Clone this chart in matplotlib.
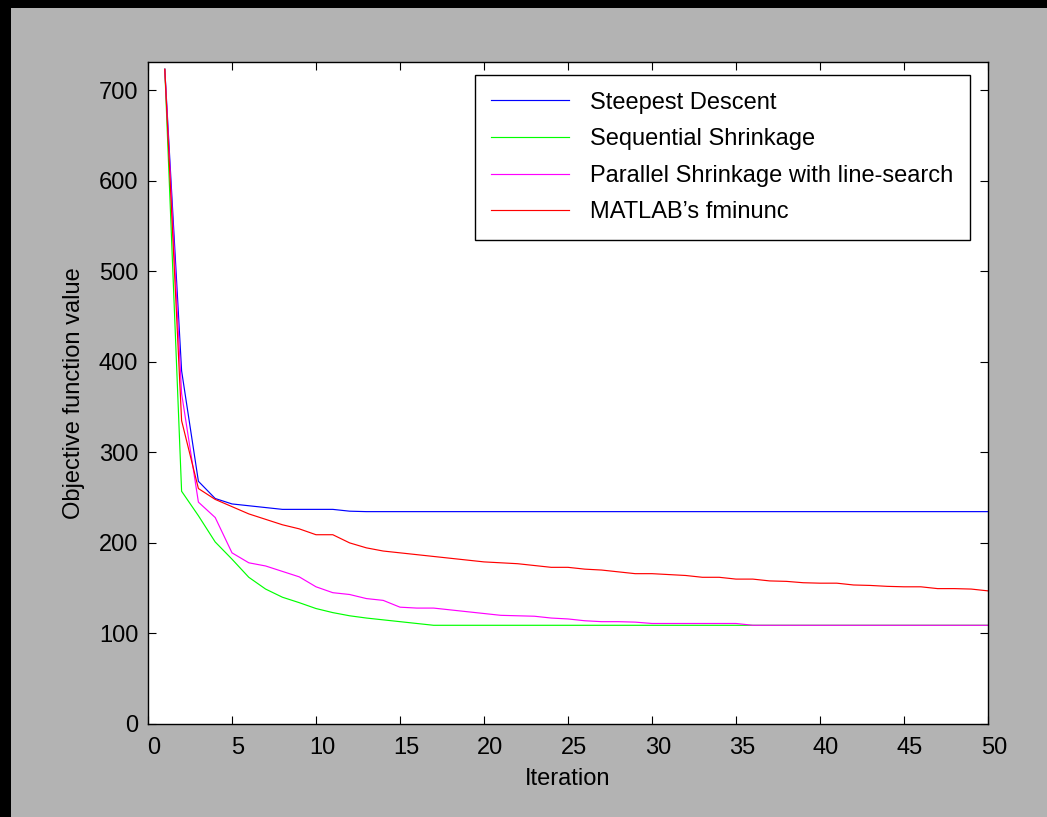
import matplotlib
matplotlib.use("Agg")
import matplotlib.pyplot as plt
import matplotlib.transforms as mtransforms
from matplotlib.patches import Rectangle

plt.rcParams['font.family'] = ['Liberation Sans', 'DejaVu Sans']

iterations = list(range(1, 51))

steepest = [723, 390, 268, 249, 243, 241, 239, 237, 237, 237,
            237, 235, 234.5, 234.5, 234.5, 234.5, 234.5, 234.5, 234.5, 234.5,
            234.5, 234.5, 234.5, 234.5, 234.5, 234.5, 234.5, 234.5, 234.5, 234.5,
            234.5, 234.5, 234.5, 234.5, 234.5, 234.5, 234.5, 234.5, 234.5, 234.5,
            234.5, 234.5, 234.5, 234.5, 234.5, 234.5, 234.5, 234.5, 234.5, 234.5]

sequential = [723, 257, 230, 201, 182, 162, 149, 140, 134, 127.5,
              123, 119.5, 117, 115, 113, 111, 109, 109, 109, 109,
              109, 109, 109, 109, 109, 109, 109, 109, 109, 109,
              109, 109, 109, 109, 109, 109, 109, 109, 109, 109,
              109, 109, 109, 109, 109, 109, 109, 109, 109, 109]

parallel_ls = [723, 365, 245, 228, 189, 178, 174.5, 168.5, 162.5, 151.5,
               145, 143, 138.5, 136.5, 129, 128, 128, 126, 124, 122,
               120, 119.5, 119, 117, 116, 114, 113, 113, 112.5, 111,
               111, 111, 111, 111, 111, 109, 109, 109, 109, 109,
               109, 109, 109, 109, 109, 109, 109, 109, 109, 109]

fminunc = [723, 335, 260, 248, 240, 232, 226, 220, 215.5, 209,
           209, 200, 194.5, 191, 189, 187, 185, 183, 181, 179,
           178, 177, 175, 173, 173, 171, 170, 168, 166, 166,
           165, 164, 162, 162, 160, 160, 158, 157.5, 156, 155.5,
           155.5, 153.5, 153, 152, 151.5, 151.5, 149.5, 149.5, 149, 147]

series = [
    (steepest, 'Steepest Descent', (0, 0, 1)),
    (sequential, 'Sequential Shrinkage', (0, 1, 0)),
    (parallel_ls, 'Parallel Shrinkage with line-search', (1, 0, 1)),
    (fminunc, "MATLAB\u2019s fminunc", (1, 0, 0)),
]

FS = 17

fig = plt.figure(figsize=(10.47, 8.17), dpi=100, facecolor='#b3b3b3')
# black strips on the left and top edges
fig.patches.append(Rectangle((0, 0), 11 / 1047, 1, transform=fig.transFigure,
                             facecolor='black', edgecolor='none'))
fig.patches.append(Rectangle((0, 1 - 8 / 817), 1, 8 / 817, transform=fig.transFigure,
                             facecolor='black', edgecolor='none'))

ax = fig.add_axes([148 / 1047, 93 / 817, 840 / 1047, 662 / 817])
ax.set_facecolor('white')

for vals, name, col in series:
    ax.plot(iterations, vals, color=col, lw=0.85, label=name)

ax.set_xlim(0, 50)
ax.set_ylim(0, 731)
ax.set_xticks(range(0, 51, 5))
ax.set_yticks(range(0, 701, 100))
ax.tick_params(direction='in', length=6, width=0.8, top=True, right=True,
               labelsize=FS, colors='black')
ax.tick_params(axis='y', pad=7)
ax.tick_params(axis='x', pad=9)
for s in ax.spines.values():
    s.set_linewidth(1.0)

# x tick labels sit a little right of their ticks
shift = mtransforms.ScaledTranslation(6 / 100, 0, fig.dpi_scale_trans)
for lbl in ax.get_xticklabels():
    lbl.set_transform(lbl.get_transform() + shift)

ax.set_xlabel('Iteration', fontsize=FS, labelpad=7)
ax.set_ylabel('Objective function value', fontsize=FS, labelpad=10)

leg = ax.legend(loc='upper right', bbox_to_anchor=(0.9786, 0.9804),
                borderaxespad=0, fontsize=FS, handlelength=3.3,
                handletextpad=0.9, labelspacing=0.62, borderpad=0.7,
                fancybox=False, framealpha=1, edgecolor='black')
leg.get_frame().set_linewidth(1.0)

fig.savefig('out.png', dpi=100, facecolor=fig.get_facecolor())
